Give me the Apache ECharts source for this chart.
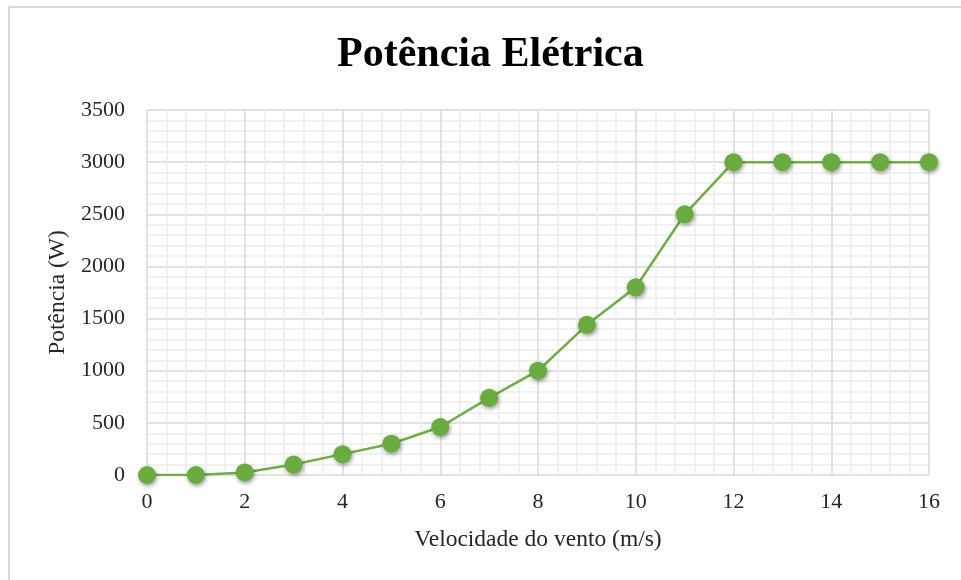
<!DOCTYPE html>
<html>
<head>
<meta charset="utf-8">
<script src="https://cdn.jsdelivr.net/npm/echarts@6/dist/echarts.min.js"></script>
<style>html,body{margin:0;padding:0;background:#fff}#c{width:961px;height:580px}</style>
</head>
<body>
<div id="c"></div>
<script>
var titleText = 'Potência Elétrica';
var xName = 'Velocidade do vento (m/s)';
var yName = 'Potência (W)';
var windSpeed = [0,1,2,3,4,5,6,7,8,9,10,11,12,13,14,15,16];
var power = [0,0,25,100,200,300,460,740,1000,1440,1800,2500,3000,3000,3000,3000,3000];

var chart = echarts.init(document.getElementById('c'), null, {renderer:'canvas'});
var serif = '"Liberation Serif", "Times New Roman", serif';
chart.setOption({
  animation: false,
  backgroundColor: '#fff',
  title: {
    text: titleText, left: 332, top: 29,
    textStyle: {fontFamily: serif, fontSize: 42, fontWeight: 'bold', color: '#000'}
  },
  graphic: [
    {type:'line', shape:{x1:9,y1:7,x2:961,y2:7}, style:{stroke:'#d9d9d9', lineWidth:2}},
    {type:'line', shape:{x1:9,y1:7,x2:9,y2:580}, style:{stroke:'#d9d9d9', lineWidth:2}}
  ],
  grid: {left:147, right:32, top:110, bottom:105, containLabel:false},
  xAxis: {
    type:'value', min:0, max:16, interval:2,
    name: xName, nameLocation:'middle', nameGap:53,
    nameTextStyle:{fontFamily:serif, fontSize:23.5, color:'#262626'},
    axisLine:{show:false}, axisTick:{show:false},
    axisLabel:{fontFamily:serif, fontSize:22, color:'#262626', margin:16, formatter:function(v){return String(v);}},
    splitLine:{show:true, lineStyle:{color:'#d9d9d9', width:1.5}},
    minorTick:{show:false, splitNumber:5},
    minorSplitLine:{show:true, lineStyle:{color:'#ededed', width:1.5}}
  },
  yAxis: {
    type:'value', min:0, max:3500, interval:500,
    name: yName, nameLocation:'middle', nameGap:77, nameRotate:90,
    nameTextStyle:{fontFamily:serif, fontSize:23.5, color:'#262626'},
    axisLine:{show:false}, axisTick:{show:false},
    axisLabel:{fontFamily:serif, fontSize:22, color:'#262626', margin:22, formatter:function(v){return String(v);}},
    splitLine:{show:true, lineStyle:{color:'#d9d9d9', width:1.5}},
    minorTick:{show:false, splitNumber:5},
    minorSplitLine:{show:true, lineStyle:{color:'#ededed', width:1.5}}
  },
  series: [{
    type:'line',
    data: windSpeed.map(function(x,i){return [x, power[i]];}),
    symbol:'circle', symbolSize:18,
    lineStyle:{color:'#70ad47', width:2.5},
    itemStyle:{color:'#6aab3f', shadowBlur:4, shadowColor:'rgba(0,0,0,0.4)', shadowOffsetY:2, shadowOffsetX:1},
    z: 3
  }]
});
</script>
</body>
</html>
